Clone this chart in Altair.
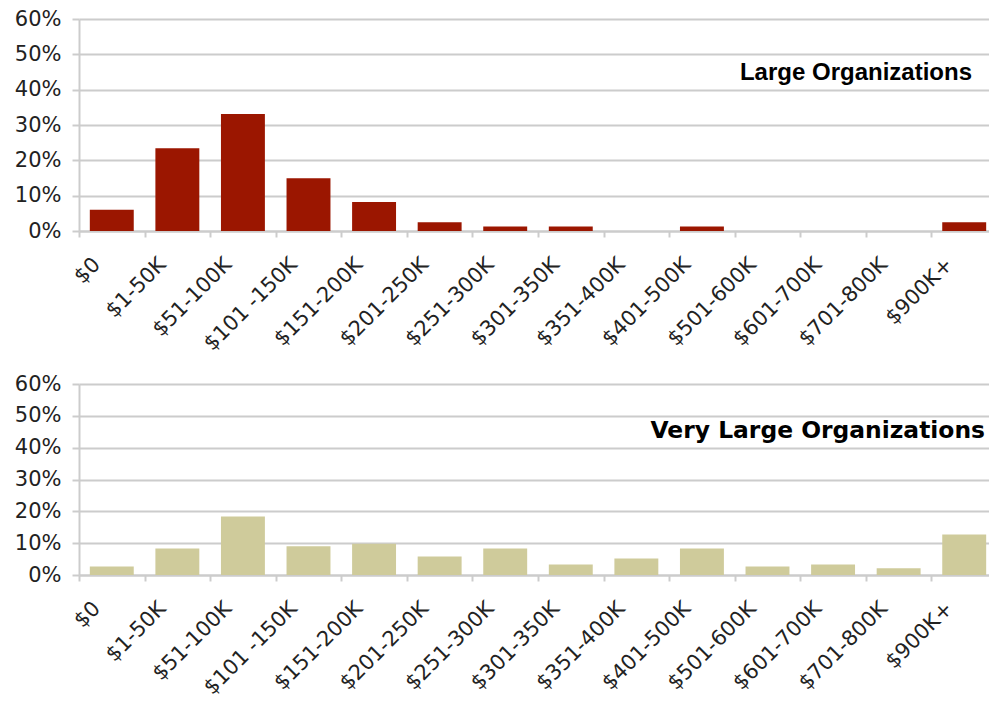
import altair as alt
import pandas as pd

# Salary bands (x categories)
bands = ["$0", "$1-50K", "$51-100K", "$101 -150K", "$151-200K", "$201-250K",
         "$251-300K", "$301-350K", "$351-400K", "$401-500K", "$501-600K",
         "$601-700K", "$701-800K", "$900K+"]

# Share of respondents per band
large_share = [0.060, 0.234, 0.331, 0.149, 0.082, 0.025, 0.013,
               0.013, 0.0, 0.013, 0.0, 0.0, 0.0, 0.025]
very_large_share = [0.027, 0.083, 0.184, 0.090, 0.098, 0.058, 0.083,
                    0.033, 0.052, 0.083, 0.027, 0.033, 0.021, 0.127]

panel_titles = ["Large Organizations", "Very Large Organizations"]

GRID = "#cccccc"
LABEL = "#222222"

# Bands fill the whole step so the axis ticks fall between categories
x_scale = alt.Scale(range=[0, 918], paddingInner=0, paddingOuter=0)
y_scale = alt.Scale(domain=[0, 0.6])


def x_axis():
    return alt.Axis(
        title=None, labelAngle=315, labelAlign="right", labelBaseline="middle",
        labelFont="DejaVu Sans", labelFontSize=21, labelColor=LABEL,
        labelPadding=24, labelOffset=-15, tickBand="extent", tickSize=6,
        tickColor=GRID, tickWidth=2, domainColor=GRID, domainWidth=2,
        grid=False, labelOverlap=False,
    )


def y_axis():
    return alt.Axis(
        title=None, format=".0%", values=[0, 0.1, 0.2, 0.3, 0.4, 0.5, 0.6],
        labelFont="DejaVu Sans", labelFontSize=21, labelColor=LABEL,
        labelPadding=11, tickSize=7, tickColor=GRID, tickWidth=2,
        domainColor=GRID, domainWidth=2, gridColor=GRID, gridWidth=2,
    )


def panel(values, color, title, title_font, title_size, title_x, title_y, height):
    df = pd.DataFrame({"band": bands, "share": values})
    bars = alt.Chart(df).mark_bar(
        color=color, width=alt.RelativeBandSize(0.67)
    ).encode(
        x=alt.X("band:N", sort=bands, scale=x_scale, axis=x_axis()),
        y=alt.Y("share:Q", scale=y_scale, axis=y_axis()),
    )
    label = alt.Chart(pd.DataFrame({"t": [title]})).mark_text(
        align="right", baseline="middle", font=title_font,
        fontSize=title_size, fontWeight="bold", color="#000000",
    ).encode(text="t:N", x=alt.value(title_x), y=alt.value(title_y))
    return alt.layer(bars, label).properties(width=910, height=height)


top = panel(large_share, "#9b1600", panel_titles[0], "Liberation Sans", 24, 893, 54, 212)
bottom = panel(very_large_share, "#cfcb9b", panel_titles[1], "DejaVu Sans", 23.4, 906, 47, 191)

chart = alt.vconcat(top, bottom, spacing=153, bounds="flush").properties(
    autosize=alt.AutoSizeParams(type="none"),
    padding={"left": 79, "top": 19, "right": 0, "bottom": 129},
    background="white",
).configure_view(stroke=None)

# Fixed overall view size for the stacked panels
view_size_patch = [
    {"op": "add", "path": "/width", "value": 910},
    {"op": "add", "path": "/height", "value": 556},
]

chart.save("out.html", embed_options={"renderer": "svg", "actions": False,
                                      "patch": view_size_patch})
